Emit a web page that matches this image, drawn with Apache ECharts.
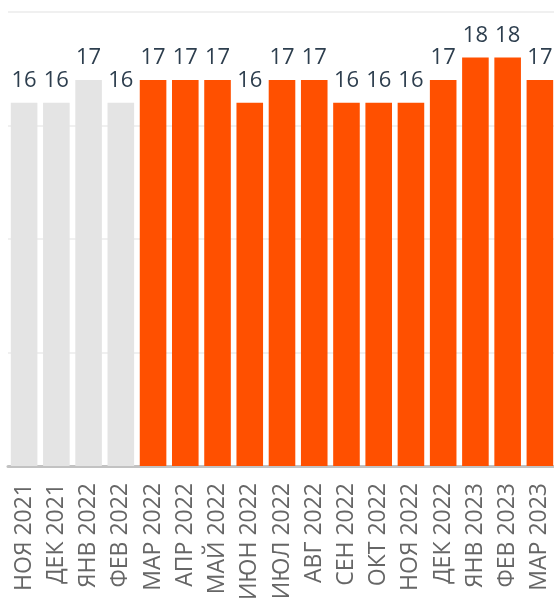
<!DOCTYPE html>
<html>
<head>
<meta charset="utf-8">
<script src="https://cdn.jsdelivr.net/npm/echarts@6/dist/echarts.min.js"></script>
<style>
html,body{margin:0;padding:0;background:#fff;}
#chart{width:554px;height:600px;}
</style>
</head>
<body>
<div id="chart"></div>
<script>
const categories = ['НОЯ 2021','ДЕК 2021','ЯНВ 2022','ФЕВ 2022','МАР 2022','АПР 2022','МАЙ 2022','ИЮН 2022','ИЮЛ 2022','АВГ 2022','СЕН 2022','ОКТ 2022','НОЯ 2022','ДЕК 2022','ЯНВ 2023','ФЕВ 2023','МАР 2023'];
const values = [16,16,17,16,17,17,17,16,17,17,16,16,16,17,18,18,17];
const highlighted = [false,false,false,false,true,true,true,true,true,true,true,true,true,true,true,true,true];

const GRAY = '#e4e4e4';
const ORANGE = '#ff5000';

const chart = echarts.init(document.getElementById('chart'), null, {renderer:'canvas'});
chart.setOption({
  animation:false,
  grid:{left:8, top:12, width:548, bottom:134, containLabel:false, outerBoundsMode:'none'},
  xAxis:{
    type:'category',
    data:categories,
    axisLine:{show:true, lineStyle:{color:'#c2c2c2', width:3}},
    axisTick:{show:false},
    axisLabel:{rotate:90, interval:0, margin:17, color:'#666', fontFamily:'Open Sans', fontSize:23}
  },
  yAxis:{
    type:'value', min:0, max:20, interval:5,
    axisLabel:{show:false}, axisLine:{show:false}, axisTick:{show:false},
    splitLine:{show:true, lineStyle:{color:'#f0f0f0', width:2}}
  },
  series:[{
    type:'bar',
    barCategoryGap:'17.5%',
    data:values.map((v,i)=>({value:v, itemStyle:{color: highlighted[i]?ORANGE:GRAY}})),
    label:{show:true, position:'top', distance:11, color:'#2d3e4e', fontFamily:'Open Sans', fontSize:22}
  }]
});
</script>
</body>
</html>
